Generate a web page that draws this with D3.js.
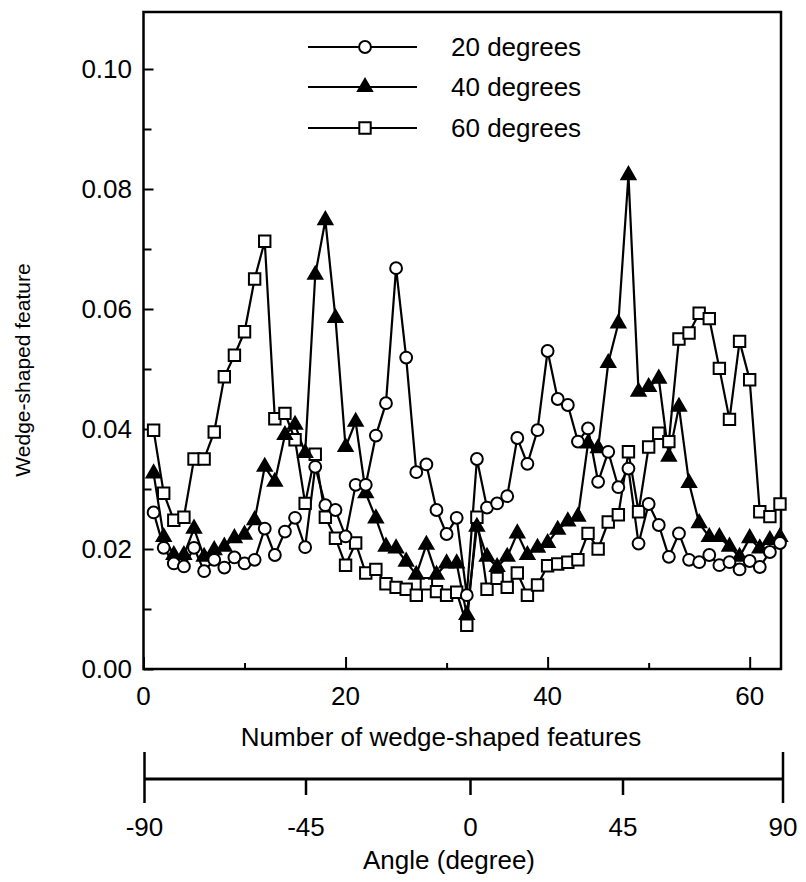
<!DOCTYPE html>
<html>
<head>
<meta charset="utf-8">
<script src="https://cdn.jsdelivr.net/npm/d3@7/dist/d3.min.js"></script>
<style>
  html, body { margin: 0; padding: 0; background: #fff; }
  svg { display: block; }
  text { font-family: "Liberation Sans", Arial, Helvetica, sans-serif; fill: #000; }
</style>
</head>
<body>
<svg id="chart" width="806" height="882"></svg>
<script>
// ---- data ----
const counts = [1,2,3,4,5,6,7,8,9,10,11,12,13,14,15,16,17,18,19,20,21,22,23,24,25,26,27,28,29,30,
  31,32,33,34,35,36,37,38,39,40,41,42,43,44,45,46,47,48,49,50,51,52,53,54,55,56,57,58,59,60,61,62,63];

const deg20 = [0.0261,0.0202,0.0176,0.0171,0.0202,0.0163,0.0182,0.0169,0.0186,0.0176,
  0.0182,0.0234,0.0190,0.0229,0.0252,0.0203,0.0337,0.0273,0.0265,0.0221,
  0.0307,0.0307,0.0389,0.0443,0.0668,0.0519,0.0328,0.0341,0.0265,0.0225,
  0.0252,0.0123,0.0350,0.0269,0.0276,0.0288,0.0385,0.0342,0.0398,0.0530,
  0.0450,0.0440,0.0379,0.0401,0.0312,0.0362,0.0303,0.0334,0.0209,0.0275,
  0.0240,0.0187,0.0226,0.0182,0.0178,0.0190,0.0173,0.0178,0.0166,0.0180,
  0.0170,0.0195,0.0210];

const deg40 = [0.0326,0.0220,0.0190,0.0190,0.0234,0.0187,0.0198,0.0204,0.0218,0.0224,
  0.0248,0.0337,0.0312,0.0390,0.0407,0.0360,0.0657,0.0748,0.0585,0.0370,
  0.0412,0.0293,0.0251,0.0204,0.0201,0.0179,0.0157,0.0207,0.0157,0.0176,
  0.0176,0.0090,0.0237,0.0187,0.0170,0.0187,0.0226,0.0190,0.0202,0.0210,
  0.0232,0.0246,0.0254,0.0376,0.0368,0.0510,0.0576,0.0823,0.0462,0.0470,
  0.0484,0.0354,0.0437,0.0310,0.0243,0.0220,0.0220,0.0204,0.0187,0.0218,
  0.0201,0.0215,0.0220];

const deg60 = [0.0398,0.0293,0.0248,0.0253,0.0350,0.0350,0.0395,0.0487,0.0523,0.0562,
  0.0650,0.0713,0.0417,0.0426,0.0382,0.0276,0.0358,0.0253,0.0218,0.0173,
  0.0210,0.0160,0.0166,0.0142,0.0136,0.0133,0.0123,0.0142,0.0129,0.0123,
  0.0128,0.0073,0.0253,0.0133,0.0151,0.0136,0.0160,0.0123,0.0140,0.0172,
  0.0175,0.0178,0.0182,0.0226,0.0200,0.0245,0.0257,0.0362,0.0262,0.0370,
  0.0393,0.0379,0.0550,0.0560,0.0593,0.0584,0.0501,0.0416,0.0546,0.0482,
  0.0262,0.0254,0.0275];

const seriesNames = ["20 degrees", "40 degrees", "60 degrees"];
const xTickValues = [0, 20, 40, 60];
const xMinorTicks = [10, 30, 50];
const yTickValues = [0, 0.02, 0.04, 0.06, 0.08, 0.10];
const yMinorTicks = [0.01, 0.03, 0.05, 0.07, 0.09];
const angleTicks = [-90, -45, 0, 45, 90];

// ---- layout ----
const svg = d3.select("#chart");
const FS = 26;
const x = d3.scaleLinear().domain([0, 63.1]).range([143.5, 781]);
const y = d3.scaleLinear().domain([0, 0.1095]).range([669, 12]);
// hand-drawn secondary axis: piecewise linear scale through the drawn tick positions
const xa = d3.scaleLinear().domain(angleTicks).range([144.5, 306, 470.5, 623, 783]);

const series = [
  { name: seriesNames[0], values: deg20, symbol: d3.symbolCircle, size: 110, fill: "#fff" },
  { name: seriesNames[1], values: deg40, symbol: d3.symbolTriangle, size: 85, fill: "#000" },
  { name: seriesNames[2], values: deg60, symbol: d3.symbolSquare, size: 130, fill: "#fff" }
];

// frame
svg.append("rect")
  .attr("x", x(0)).attr("y", y(0.1095))
  .attr("width", x(63.1) - x(0)).attr("height", y(0) - y(0.1095))
  .attr("fill", "none").attr("stroke", "#000").attr("stroke-width", 2.5);

// x axis (ticks inward)
const xAxis = d3.axisTop(x).tickValues(xTickValues).tickSize(12).tickFormat("");
const gx = svg.append("g").attr("transform", `translate(0,${y(0)})`).call(xAxis);
gx.select(".domain").remove();
gx.selectAll("line").attr("stroke-width", 2);
const xAxisMinor = d3.axisTop(x).tickValues(xMinorTicks).tickSize(6).tickFormat("");
const gxm = svg.append("g").attr("transform", `translate(0,${y(0)})`).call(xAxisMinor);
gxm.select(".domain").remove();
gxm.selectAll("line").attr("stroke-width", 2);

svg.append("g").selectAll("text").data(xTickValues).join("text")
  .attr("x", d => x(d)).attr("y", 705)
  .attr("text-anchor", "middle").attr("font-size", FS)
  .text(d => d3.format("d")(d));

// y axis (ticks inward)
const yAxis = d3.axisRight(y).tickValues(yTickValues).tickSize(10).tickFormat("");
const gy = svg.append("g").attr("transform", `translate(${x(0)},0)`).call(yAxis);
gy.select(".domain").remove();
gy.selectAll("line").attr("stroke-width", 2);
const yAxisMinor = d3.axisRight(y).tickValues(yMinorTicks).tickSize(8).tickFormat("");
const gym = svg.append("g").attr("transform", `translate(${x(0)},0)`).call(yAxisMinor);
gym.select(".domain").remove();
gym.selectAll("line").attr("stroke-width", 2);

svg.append("g").selectAll("text").data(yTickValues).join("text")
  .attr("x", 132).attr("y", d => y(d)).attr("dy", "0.36em")
  .attr("text-anchor", "end").attr("font-size", FS)
  .text(d => d3.format(".2f")(d));

// axis titles
svg.append("text").attr("x", 441).attr("y", 746)
  .attr("text-anchor", "middle").attr("font-size", FS)
  .text("Number of wedge-shaped features");

svg.append("text")
  .attr("transform", "translate(30,370) rotate(-90)")
  .attr("text-anchor", "middle").attr("font-size", 21)
  .text("Wedge-shaped feature");

// angle axis
const angY = 779;
svg.append("line").attr("x1", xa(-90)).attr("x2", xa(90))
  .attr("y1", angY).attr("y2", angY)
  .attr("stroke", "#000").attr("stroke-width", 3);
svg.append("g").selectAll("line").data(angleTicks).join("line")
  .attr("x1", d => xa(d)).attr("x2", d => xa(d))
  .attr("y1", d => Math.abs(d) === 90 ? 752 : angY)
  .attr("y2", d => Math.abs(d) === 90 ? 803 : 795)
  .attr("stroke", "#000").attr("stroke-width", 2.5);
svg.append("g").selectAll("text").data(angleTicks).join("text")
  .attr("x", d => xa(d)).attr("y", 836)
  .attr("text-anchor", "middle").attr("font-size", FS)
  .text(d => d);
svg.append("text").attr("x", 449).attr("y", 869)
  .attr("text-anchor", "middle").attr("font-size", FS)
  .text("Angle (degree)");

// series
const line = d3.line().x((d, i) => x(counts[i])).y(d => y(d));
series.slice().reverse().forEach(s => {
  svg.append("path").datum(s.values)
    .attr("d", line).attr("fill", "none")
    .attr("stroke", "#000").attr("stroke-width", 2.2);
});
series.slice().reverse().forEach(s => {
  svg.append("g").selectAll("path").data(s.values).join("path")
    .attr("transform", (d, i) => `translate(${x(counts[i])},${y(d)})`)
    .attr("d", d3.symbol().type(s.symbol).size(s.size))
    .attr("fill", s.fill).attr("stroke", "#000").attr("stroke-width", 2);
});

// legend
const legY = [47, 87, 128];
series.forEach((s, i) => {
  const g = svg.append("g").attr("transform", `translate(0,${legY[i]})`);
  g.append("line").attr("x1", 308).attr("x2", 417).attr("y1", 0).attr("y2", 0)
    .attr("stroke", "#000").attr("stroke-width", 2.2);
  g.append("path").attr("transform", "translate(365,0)")
    .attr("d", d3.symbol().type(s.symbol).size(s.size))
    .attr("fill", s.fill).attr("stroke", "#000").attr("stroke-width", 2);
  g.append("text").attr("x", 451).attr("y", 0).attr("dy", "0.36em")
    .attr("font-size", FS).text(s.name);
});
</script>
</body>
</html>
